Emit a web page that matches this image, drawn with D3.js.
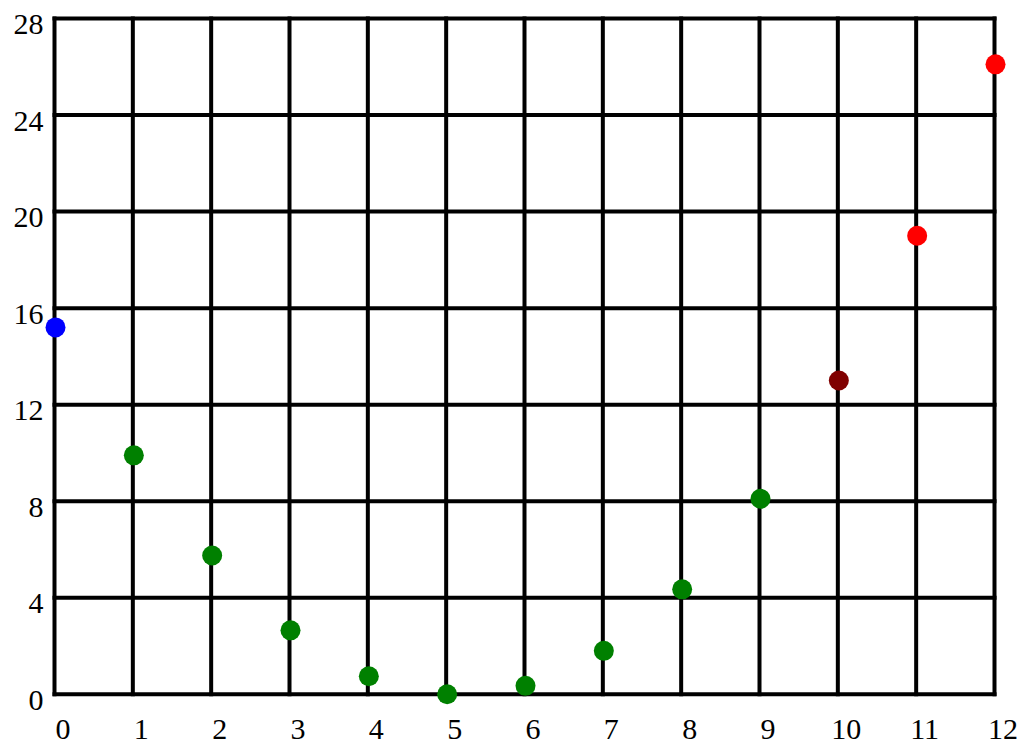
<!DOCTYPE html>
<html>
<head>
<meta charset="utf-8">
<script src="https://cdn.jsdelivr.net/npm/d3@7"></script>
<style>
  html, body { margin: 0; padding: 0; background: #fff; }
  svg { display: block; }
</style>
</head>
<body>
<svg id="chart" width="1024" height="753"></svg>
<script>
// Data
const xValues = [0, 1, 2, 3, 4, 5, 6, 7, 8, 9, 10, 11, 12];
const yValues = [15.2, 9.9, 5.75, 2.65, 0.75, 0, 0.35, 1.8, 4.35, 8.1, 13, 19, 26.1];
const pointColors = ["#0000ff", "#008000", "#008000", "#008000", "#008000", "#008000", "#008000",
                     "#008000", "#008000", "#008000", "#800000", "#ff0000", "#ff0000"];
const xTicks = [0, 1, 2, 3, 4, 5, 6, 7, 8, 9, 10, 11, 12];
const yTicks = [0, 4, 8, 12, 16, 20, 24, 28];

const svg = d3.select("#chart");
const pLeft = 54.5, pRight = 994.5, pTop = 18.5, pBottom = 694.3;

const x = d3.scaleLinear().domain([0, 12]).range([pLeft, pRight]);
const y = d3.scaleLinear().domain([0, 28]).range([pBottom, pTop]);

const font = "'Liberation Serif', 'Times New Roman', serif";

// Grid
const grid = svg.append("g").attr("stroke", "#000").attr("stroke-width", 4);
grid.selectAll("line.v").data(xTicks).enter().append("line").attr("class", "v")
  .attr("x1", d => x(d)).attr("x2", d => x(d))
  .attr("y1", pTop - 2).attr("y2", pBottom + 2);
grid.selectAll("line.h").data(yTicks).enter().append("line").attr("class", "h")
  .attr("y1", d => y(d)).attr("y2", d => y(d))
  .attr("x1", pLeft - 2).attr("x2", pRight + 2);

// Y axis labels
const yAxis = d3.axisLeft(y).tickValues(yTicks).tickSize(0).tickPadding(0).tickFormat(d3.format("d"));
const yg = svg.append("g").attr("transform", `translate(${pLeft - 11},0)`).call(yAxis);
yg.select(".domain").remove();
yg.selectAll("text")
  .attr("font-family", font).attr("font-size", 30).attr("fill", "#000")
  .attr("dy", null).attr("y", 15);

// X axis labels
const xAxis = d3.axisBottom(x).tickValues(xTicks).tickSize(0).tickPadding(0).tickFormat(d3.format("d"));
const xg = svg.append("g").attr("transform", `translate(8,0)`).call(xAxis);
xg.select(".domain").remove();
xg.selectAll("text")
  .attr("font-family", font).attr("font-size", 30).attr("fill", "#000")
  .attr("dy", null).attr("y", 739);

// Points
svg.append("g").selectAll("circle").data(xValues).enter().append("circle")
  .attr("cx", (d, i) => x(d) + 1)
  .attr("cy", (d, i) => y(yValues[i]))
  .attr("r", 10)
  .attr("fill", (d, i) => pointColors[i]);
</script>
</body>
</html>
